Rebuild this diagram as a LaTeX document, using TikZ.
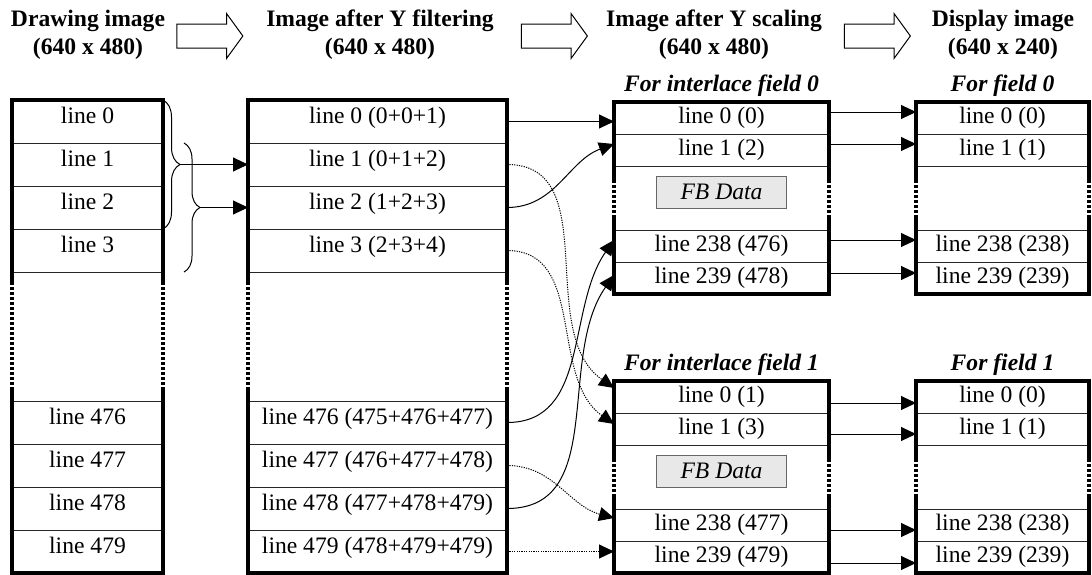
\documentclass[tikz,border=0pt]{standalone}
\usepackage{fontspec}
\setmainfont{Liberation Serif}
\usetikzlibrary{arrows.meta,positioning,shapes.arrows,decorations.pathreplacing}

\begin{document}
\begin{tikzpicture}[x=0.5pt, y=-0.5pt, >={Triangle[length=7.5pt,width=7pt]},
  every node/.style={align=center, font=\fontsize{11.8}{14}\selectfont},
  row/.style={draw=black!85, line width=0.5pt, inner sep=0pt, outer sep=0pt, anchor=north, text height=8pt, text depth=6pt},
  drawrow/.style={row, minimum width=75.5pt, minimum height=21.5pt},
  filtrow/.style={row, minimum width=129.5pt, minimum height=21.5pt},
  scalerow/.style={row, minimum width=107.5pt, minimum height=16pt, text depth=3pt},
  disprow/.style={row, minimum width=86.5pt, minimum height=16pt, text depth=3pt},
  frame/.style={line width=1.6pt},
  dots/.style={line width=1.6pt, dash pattern=on 1.5pt off 1pt},
  link/.style={->, line width=0.5pt},
  dotline/.style={link, dash pattern=on 0.6pt off 0.6pt},
  head/.style={font=\fontsize{11.8}{14}\selectfont\bfseries},
  field/.style={font=\fontsize{11.8}{14}\selectfont\bfseries\itshape, inner sep=0pt, text depth=0pt},
  fbbox/.style={draw=black!60, line width=0.5pt, fill=black!9, minimum width=65pt, minimum height=16pt, inner sep=0pt, font=\fontsize{11.8}{14}\selectfont\itshape},
  bigarrow/.style={draw, line width=0.5pt, single arrow, single arrow head extend=5.25pt, single arrow tip angle=108, single arrow head indent=0pt, minimum height=33pt, inner sep=5.75pt}]
\useasboundingbox (0,0) rectangle (1092,574);

% headers and block arrows
\node[head] (h1) at (88,35) {Drawing image\\(640 x 480)};
\node[head] (h2) at (380,35) {Image after Y filtering\\(640 x 480)};
\node[head] (h3) at (714,35) {Image after Y scaling\\(640 x 480)};
\node[head] (h4) at (1003,35) {Display image\\(640 x 240)};
\node[bigarrow] (ar1) at (205.5,36) {};
\node[bigarrow] (ar2) at (550,36) {};
\node[bigarrow] (ar3) at (873,36) {};

% drawing image
\node[drawrow] (dw0) at (87.5,100) {line 0};
\node[drawrow,below=0pt of dw0] (dw1) {line 1};
\node[drawrow,below=0pt of dw1] (dw2) {line 2};
\node[drawrow,below=0pt of dw2] (dw3) {line 3};
\node[drawrow,draw=none,minimum height=64.5pt,below=0pt of dw3] (dwgap) {};
\node[drawrow,below=0pt of dwgap] (dw476) {line 476};
\node[drawrow,below=0pt of dw476] (dw477) {line 477};
\node[drawrow,below=0pt of dw477] (dw478) {line 478};
\node[drawrow,below=0pt of dw478] (dw479) {line 479};

% after Y filtering
\node[filtrow,right=42.5pt of dw0] (ft0) {line 0 (0+0+1)};
\node[filtrow,below=0pt of ft0] (ft1) {line 1 (0+1+2)};
\node[filtrow,below=0pt of ft1] (ft2) {line 2 (1+2+3)};
\node[filtrow,below=0pt of ft2] (ft3) {line 3 (2+3+4)};
\node[filtrow,draw=none,minimum height=64.5pt,below=0pt of ft3] (ftgap) {};
\node[filtrow,below=0pt of ftgap] (ft476) {line 476 (475+476+477)};
\node[filtrow,below=0pt of ft476] (ft477) {line 477 (476+477+478)};
\node[filtrow,below=0pt of ft477] (ft478) {line 478 (477+478+479)};
\node[filtrow,below=0pt of ft478] (ft479) {line 479 (478+479+479)};

% after Y scaling, field 0
\node[scalerow] (sa0) at (721.5,102) {line 0 (0)};
\node[scalerow,below=0pt of sa0] (sa1) {line 1 (2)};
\node[scalerow,draw=none,minimum height=32pt,below=0pt of sa1] (sagap) {};
\node[scalerow,below=0pt of sagap] (sa238) {line 238 (476)};
\node[scalerow,below=0pt of sa238] (sa239) {line 239 (478)};
\node[fbbox] (safb) at ([yshift=3pt]sagap.center) {FB Data};
\node[field,above=5pt of sa0] (salab) {For interlace field 0};

% after Y scaling, field 1
\node[scalerow,below=43.5pt of sa239] (sb0) {line 0 (1)};
\node[scalerow,below=0pt of sb0] (sb1) {line 1 (3)};
\node[scalerow,draw=none,minimum height=32pt,below=0pt of sb1] (sbgap) {};
\node[scalerow,below=0pt of sbgap] (sb238) {line 238 (477)};
\node[scalerow,below=0pt of sb238] (sb239) {line 239 (479)};
\node[fbbox] (sbfb) at ([yshift=3pt]sbgap.center) {FB Data};
\node[field,above=5pt of sb0] (sblab) {For interlace field 1};

% display image
\node[disprow,right=43.5pt of sa0] (da0) {line 0 (0)};
\node[disprow,below=0pt of da0] (da1) {line 1 (1)};
\node[disprow,draw=none,minimum height=32pt,below=0pt of da1] (dagap) {};
\node[disprow,below=0pt of dagap] (da238) {line 238 (238)};
\node[disprow,below=0pt of da238] (da239) {line 239 (239)};
\node[field,above=5pt of da0] (dalab) {For field 0};
\node[disprow,right=43.5pt of sb0] (db0) {line 0 (0)};
\node[disprow,below=0pt of db0] (db1) {line 1 (1)};
\node[disprow,draw=none,minimum height=32pt,below=0pt of db1] (dbgap) {};
\node[disprow,below=0pt of dbgap] (db238) {line 238 (238)};
\node[disprow,below=0pt of db238] (db239) {line 239 (239)};
\node[field,above=5pt of db0] (dblab) {For field 1};

% thick frames, dotted where lines are left out
\draw[frame] ([yshift=-5pt]dwgap.north west) -- (dw0.north west) -- (dw0.north east) -- ([yshift=-5pt]dwgap.north east);
\draw[frame] ([yshift=7pt]dwgap.south west) -- (dw479.south west) -- (dw479.south east) -- ([yshift=7pt]dwgap.south east);
\draw[dots] ([yshift=-5pt]dwgap.north west) -- ([yshift=7pt]dwgap.south west); \draw[dots] ([yshift=-5pt]dwgap.north east) -- ([yshift=7pt]dwgap.south east);
\draw[frame] ([yshift=-5pt]ftgap.north west) -- (ft0.north west) -- (ft0.north east) -- ([yshift=-5pt]ftgap.north east);
\draw[frame] ([yshift=7pt]ftgap.south west) -- (ft479.south west) -- (ft479.south east) -- ([yshift=7pt]ftgap.south east);
\draw[dots] ([yshift=-5pt]ftgap.north west) -- ([yshift=7pt]ftgap.south west); \draw[dots] ([yshift=-5pt]ftgap.north east) -- ([yshift=7pt]ftgap.south east);
\draw[frame] ([yshift=-7pt]sagap.north west) -- (sa0.north west) -- (sa0.north east) -- ([yshift=-7pt]sagap.north east);
\draw[frame] ([yshift=7.5pt]sagap.south west) -- (sa239.south west) -- (sa239.south east) -- ([yshift=7.5pt]sagap.south east);
\draw[dots] ([yshift=-7pt]sagap.north west) -- ([yshift=7.5pt]sagap.south west); \draw[dots] ([yshift=-7pt]sagap.north east) -- ([yshift=7.5pt]sagap.south east);
\draw[frame] ([yshift=-7pt]sbgap.north west) -- (sb0.north west) -- (sb0.north east) -- ([yshift=-7pt]sbgap.north east);
\draw[frame] ([yshift=7.5pt]sbgap.south west) -- (sb239.south west) -- (sb239.south east) -- ([yshift=7.5pt]sbgap.south east);
\draw[dots] ([yshift=-7pt]sbgap.north west) -- ([yshift=7.5pt]sbgap.south west); \draw[dots] ([yshift=-7pt]sbgap.north east) -- ([yshift=7.5pt]sbgap.south east);
\draw[frame] ([yshift=-7pt]dagap.north west) -- (da0.north west) -- (da0.north east) -- ([yshift=-7pt]dagap.north east);
\draw[frame] ([yshift=7.5pt]dagap.south west) -- (da239.south west) -- (da239.south east) -- ([yshift=7.5pt]dagap.south east);
\draw[dots] ([yshift=-7pt]dagap.north west) -- ([yshift=7.5pt]dagap.south west); \draw[dots] ([yshift=-7pt]dagap.north east) -- ([yshift=7.5pt]dagap.south east);
\draw[frame] ([yshift=-7pt]dbgap.north west) -- (db0.north west) -- (db0.north east) -- ([yshift=-7pt]dbgap.north east);
\draw[frame] ([yshift=7.5pt]dbgap.south west) -- (db239.south west) -- (db239.south east) -- ([yshift=7.5pt]dbgap.south east);
\draw[dots] ([yshift=-7pt]dbgap.north west) -- ([yshift=7.5pt]dbgap.south west); \draw[dots] ([yshift=-7pt]dbgap.north east) -- ([yshift=7.5pt]dbgap.south east);

% Y filter: three lines into one
\draw[decorate,decoration={brace,amplitude=8.5pt},line width=0.5pt] (dw0.north east) -- (dw2.south east);
\draw[decorate,decoration={brace,amplitude=8pt},line width=0.5pt] ([xshift=10.5pt]dw1.north east) -- ([xshift=10.5pt]dw3.south east);
\coordinate[right=8.5pt of dw1.east] (tip1);
\coordinate[right=18.5pt of dw2.east] (tip2);
\draw[link] (tip1) -- (ft1.west); \draw[link] (tip2) -- (ft2.west);

% even lines to field 0, odd lines to field 1
\draw[link] (ft0.east) -- (ft0.east -| sa0.west);
\draw[link] (ft2.east) to[out=0,in=200] ([yshift=3pt]sa1.west);
\draw[link] (ft476.east) to[out=0,in=235] ([yshift=3pt]sa238.west);
\draw[link] (ft478.east) to[out=0,in=235] ([yshift=1.5pt]sa239.west);
\draw[dotline] (ft1.east) to[out=0,in=145] ([yshift=4.5pt]sb0.west);
\draw[dotline] (ft3.east) to[out=0,in=145] ([yshift=2.5pt]sb1.west);
\draw[dotline] (ft477.east) to[out=0,in=165] ([yshift=3.5pt]sb238.west);
\draw[dotline] (ft479.east) -- (ft479.east -| sb239.west);

% scaled lines to display
\draw[link] ([yshift=3pt]sa0.east) -- ([yshift=3pt]da0.west); \draw[link] ([yshift=3pt]sa1.east) -- ([yshift=3pt]da1.west);
\draw[link] ([yshift=3pt]sa238.east) -- ([yshift=3pt]da238.west); \draw[link] ([yshift=2.5pt]sa239.east) -- ([yshift=2.5pt]da239.west);
\draw[link] ([yshift=-3pt]sb0.east) -- ([yshift=-3pt]db0.west); \draw[link] ([yshift=-2.5pt]sb1.east) -- ([yshift=-2.5pt]db1.west);
\draw[link] ([yshift=-2.5pt]sb238.east) -- ([yshift=-2.5pt]db238.west); \draw[link] ([yshift=-3pt]sb239.east) -- ([yshift=-3pt]db239.west);
\end{tikzpicture}
\end{document}
